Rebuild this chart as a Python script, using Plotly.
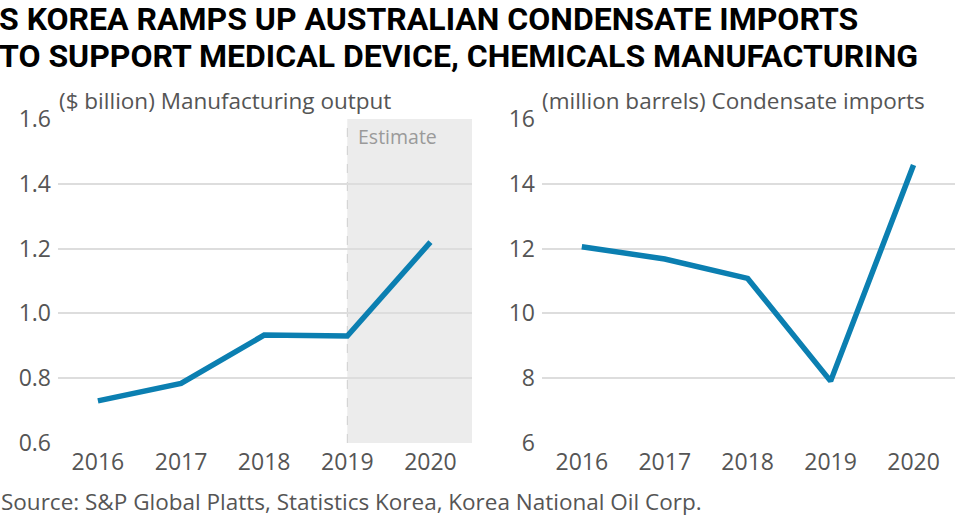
import plotly.graph_objects as go

# data
years = ["2016", "2017", "2018", "2019", "2020"]
output_bn = [0.73, 0.784, 0.933, 0.930, 1.22]
condensate_mb = [12.06, 11.68, 11.08, 7.91, 14.58]

left_ticks = [0.6, 0.8, 1.0, 1.2, 1.4, 1.6]
left_labels = ["0.6", "0.8", "1.0", "1.2", "1.4", "1.6"]
right_ticks = [6, 8, 10, 12, 14, 16]

W, H = 980, 517
LINE = "#0b7fb1"
TXT = "#555555"
GRID = "#dddddd"
FONT = "Open Sans"
TITLE_FONT = "Roboto"


def py(pixel_y):
    # pixel row from top -> paper coordinate
    return 1 - pixel_y / H


fig = go.Figure()

fig.add_trace(go.Scatter(x=years, y=output_bn, mode="lines", xaxis="x", yaxis="y",
                         line=dict(color=LINE, width=5.5), hoverinfo="x+y"))
fig.add_trace(go.Scatter(x=years, y=condensate_mb, mode="lines", xaxis="x2", yaxis="y2",
                         line=dict(color=LINE, width=5.5), hoverinfo="x+y"))

# estimate band on the left chart
fig.add_shape(type="rect", xref="x", yref="y", x0=3, x1=4.5, y0=0.6, y1=1.6,
              fillcolor="#ececec", line_width=0, layer="below")
fig.add_shape(type="line", xref="x", yref="y", x0=3, x1=3, y0=0.6, y1=1.6,
              line=dict(color="#cfcfcf", width=1, dash="dash"), layer="below")

axis_font = dict(family=FONT, size=23, color=TXT)
xcommon = dict(type="category", range=[-0.48, 4.5], showgrid=False, showline=False,
               zeroline=False, ticks="", tickfont=axis_font, fixedrange=True,
               automargin=False, ticklabelstandoff=3)
ycommon = dict(showgrid=True, gridcolor=GRID, gridwidth=1.5, zeroline=False,
               showline=False, ticks="", tickfont=axis_font, ticklabelstandoff=6,
               fixedrange=True, automargin=False)

fig.update_layout(
    width=W, height=H,
    margin=dict(l=0, r=0, t=0, b=0, pad=0, autoexpand=False),
    paper_bgcolor="white", plot_bgcolor="rgba(0,0,0,0)",
    showlegend=False,
    font=dict(family=FONT, color=TXT),
    xaxis=dict(domain=[58 / W, 472 / W], anchor="y", **xcommon),
    xaxis2=dict(domain=[542 / W, 955 / W], anchor="y2", **xcommon),
    yaxis=dict(domain=[py(443), py(119)], anchor="x", range=[0.6, 1.6],
               tickvals=left_ticks, ticktext=left_labels, **ycommon),
    yaxis2=dict(domain=[py(443), py(119)], anchor="x2", range=[6, 16],
                tickvals=right_ticks, **ycommon),
)

# title, two lines
title_lines = ["S KOREA RAMPS UP AUSTRALIAN CONDENSATE IMPORTS",
               "TO SUPPORT MEDICAL DEVICE, CHEMICALS MANUFACTURING"]
for line, ymid in zip(title_lines, [19, 56]):
    fig.add_annotation(xref="paper", yref="paper", x=0.0, y=py(ymid),
                       xanchor="left", yanchor="middle", showarrow=False,
                       text=f"<b>{line}</b>", borderpad=0, xshift=-2,
                       font=dict(family=TITLE_FONT, size=32, color="#000000"))

# panel subtitles
fig.add_annotation(xref="paper", yref="paper", x=58 / W, y=py(100),
                   xanchor="left", yanchor="middle", showarrow=False, borderpad=0,
                   text="($ billion) Manufacturing output",
                   font=dict(family=FONT, size=22.5, color=TXT))
fig.add_annotation(xref="paper", yref="paper", x=541 / W, y=py(100),
                   xanchor="left", yanchor="middle", showarrow=False, borderpad=0,
                   text="(million barrels) Condensate imports",
                   font=dict(family=FONT, size=22.5, color=TXT))

fig.add_annotation(xref="paper", yref="paper", x=357 / W, y=py(136),
                   xanchor="left", yanchor="middle", showarrow=False, borderpad=0,
                   text="Estimate", font=dict(family=FONT, size=19.5, color="#9a9a9a"))

# source
fig.add_annotation(xref="paper", yref="paper", x=0.0, y=py(501),
                   xanchor="left", yanchor="middle", showarrow=False, borderpad=0,
                   text="Source: S&P Global Platts, Statistics Korea, Korea National Oil Corp.",
                   font=dict(family=FONT, size=22.5, color=TXT))

fig.write_html("out.html", config={"displayModeBar": False},
               post_script="document.body.style.margin='0';")
